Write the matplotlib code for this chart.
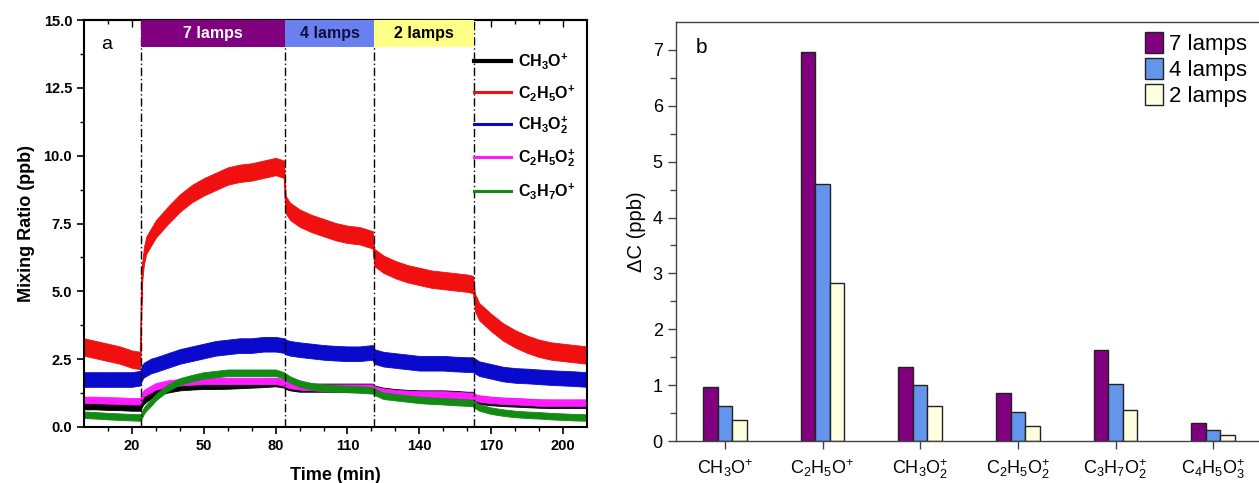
import matplotlib
matplotlib.use("Agg")
import matplotlib.pyplot as plt
from matplotlib.lines import Line2D
import numpy as np

plt.rcParams['font.family'] = ['Liberation Sans', 'DejaVu Sans']
plt.rcParams['mathtext.default'] = 'regular'

# ---------------- Panel a data ----------------
time_min = [0, 5, 10, 15, 20, 23.5, 24.2, 25, 26, 28, 30, 35, 40, 45, 50, 55, 60, 65, 70, 75,
            80, 83.5, 84.2, 86, 90, 95, 100, 105, 110, 115, 120.5, 121.2, 125, 130, 135, 140,
            145, 150, 155, 160, 162.5, 163.2, 165, 170, 175, 180, 185, 190, 195, 200, 205, 210]
ch3o = [0.8, 0.8, 0.78, 0.77, 0.75, 0.75, 0.9, 1.0, 1.08, 1.2, 1.3, 1.42, 1.5, 1.53, 1.55, 1.55,
        1.56, 1.58, 1.6, 1.62, 1.65, 1.6, 1.55, 1.5, 1.45, 1.45, 1.45, 1.45, 1.45, 1.45, 1.45,
        1.38, 1.3, 1.25, 1.22, 1.2, 1.2, 1.2, 1.18, 1.15, 1.15, 1.05, 1.0, 0.95, 0.92, 0.9, 0.88,
        0.86, 0.85, 0.85, 0.85, 0.85]
c2h5o = [2.95, 2.85, 2.75, 2.65, 2.5, 2.45, 5.6, 6.3, 6.7, 7.0, 7.3, 7.8, 8.25, 8.6, 8.85, 9.05,
         9.25, 9.35, 9.4, 9.5, 9.6, 9.5, 8.2, 7.95, 7.7, 7.5, 7.35, 7.2, 7.1, 7.05, 6.9, 6.25,
         6.0, 5.8, 5.65, 5.55, 5.45, 5.4, 5.35, 5.3, 5.25, 4.6, 4.25, 3.85, 3.5, 3.25, 3.05, 2.9,
         2.8, 2.75, 2.7, 2.65]
ch3o2 = [1.75, 1.75, 1.75, 1.75, 1.75, 1.8, 2.0, 2.1, 2.15, 2.25, 2.3, 2.45, 2.6, 2.7, 2.8, 2.9,
         2.95, 3.0, 3.0, 3.05, 3.05, 3.0, 2.95, 2.9, 2.85, 2.8, 2.75, 2.72, 2.7, 2.7, 2.75, 2.6,
         2.5, 2.45, 2.4, 2.35, 2.35, 2.35, 2.32, 2.3, 2.3, 2.25, 2.15, 2.05, 1.95, 1.9, 1.88,
         1.85, 1.82, 1.8, 1.78, 1.75]
c2h5o2 = [1.0, 1.0, 0.98, 0.97, 0.95, 0.95, 1.15, 1.25, 1.3, 1.4, 1.5, 1.6, 1.65, 1.68, 1.7, 1.7,
          1.7, 1.7, 1.7, 1.7, 1.7, 1.65, 1.6, 1.55, 1.5, 1.47, 1.45, 1.45, 1.45, 1.45, 1.45, 1.38,
          1.3, 1.25, 1.22, 1.2, 1.2, 1.2, 1.18, 1.15, 1.15, 1.1, 1.05, 1.0, 0.97, 0.95, 0.93,
          0.9, 0.9, 0.9, 0.9, 0.9]
c3h7o = [0.45, 0.43, 0.4, 0.38, 0.36, 0.35, 0.45, 0.6, 0.72, 0.9, 1.1, 1.45, 1.68, 1.8, 1.9, 1.95,
         2.0, 2.0, 2.0, 2.0, 2.0, 1.9, 1.85, 1.75, 1.6, 1.5, 1.45, 1.42, 1.4, 1.38, 1.35, 1.3,
         1.15, 1.1, 1.05, 1.0, 0.97, 0.95, 0.92, 0.9, 0.88, 0.82, 0.72, 0.6, 0.53, 0.48, 0.45,
         0.43, 0.4, 0.38, 0.36, 0.35]
# spread (half-width) of each noisy trace
noise_halfwidth = [0.15, 0.32, 0.27, 0.12, 0.12]
series_labels_a = [r'$CH_3O^{+}$', r'$C_2H_5O^{+}$', r'$CH_3O_2^{+}$', r'$C_2H_5O_2^{+}$',
                   r'$C_3H_7O^{+}$']
series_colors_a = ['#000000', '#F01010', '#0A0ACC', '#FF1AFF', '#138A13']

lamp_switch_times = [24, 84, 121, 163]
lamp_labels = ['7 lamps', '4 lamps', '2 lamps']
lamp_colors = ['#800080', '#6A80EE', '#FFFF88']
lamp_text_colors = ['white', '#101040', 'black']

# ---------------- Panel b data ----------------
ions_b = [r'$CH_3O^{+}$', r'$C_2H_5O^{+}$', r'$CH_3O_2^{+}$', r'$C_2H_5O_2^{+}$',
          r'$C_3H_7O_2^{+}$', r'$C_4H_5O_3^{+}$']
delta_7 = [0.96, 6.97, 1.32, 0.86, 1.63, 0.32]
delta_4 = [0.62, 4.60, 1.00, 0.52, 1.02, 0.20]
delta_2 = [0.38, 2.82, 0.62, 0.26, 0.55, 0.10]
bar_labels_b = ['7 lamps', '4 lamps', '2 lamps']
bar_colors_b = ['#800080', '#6495ED', '#FFFFE0']

W, H = 1259, 483
fig = plt.figure(figsize=(W / 100, H / 100), dpi=100)

# ================= Panel a =================
axa = fig.add_axes([84 / W, 1 - 427 / H, (587 - 84) / W, (427 - 20) / H])
t = np.array(time_min)
all_series = [ch3o, c2h5o, ch3o2, c2h5o2, c3h7o]
handles = []
for s, hw, c, lab in zip(all_series, noise_halfwidth, series_colors_a, series_labels_a):
    y = np.array(s)
    axa.fill_between(t, y - hw, y + hw, color=c, lw=0.6, edgecolor=c, zorder=2)
    axa.plot(t, y, color=c, lw=1.0, zorder=2)
    handles.append(Line2D([0], [0], color=c, lw=3.0 if c == '#000000' else 2.2, label=lab))

for x in lamp_switch_times:
    axa.axvline(x, color='black', lw=1.0, ls=(0, (6, 2, 1, 2)), zorder=3)

for i in range(3):
    x0, x1 = lamp_switch_times[i], lamp_switch_times[i + 1]
    axa.fill_between([x0, x1], 14.0, 15.0, color=lamp_colors[i], zorder=4, lw=0)
    axa.text((x0 + x1) / 2, 14.5, lamp_labels[i], ha='center', va='center', fontsize=11.5,
             fontweight='bold', color=lamp_text_colors[i], zorder=5)

axa.text(7, 14.1, 'a', fontsize=14, ha='left', va='center', zorder=5)

axa.set_xlim(0, 210)
axa.set_ylim(0, 15)
axa.set_xticks([20, 50, 80, 110, 140, 170, 200])
axa.set_xticks(np.arange(10, 210, 10), minor=True)
axa.set_yticks(np.arange(0, 15.1, 2.5))
axa.set_yticks(np.arange(0, 15.1, 1.25), minor=True)
axa.set_yticklabels([f'{v:.1f}' for v in np.arange(0, 15.1, 2.5)])
axa.tick_params(axis='both', which='major', direction='out', length=5, width=1.2, labelsize=10.5)
axa.tick_params(axis='both', which='minor', direction='out', length=3, width=1.0)
for lbl in axa.get_xticklabels() + axa.get_yticklabels():
    lbl.set_fontweight('bold')
sec = axa.secondary_xaxis('top')
sec.set_xticks([20, 50, 80, 110, 140, 170, 200])
sec.set_xticks(np.arange(10, 210, 10), minor=True)
sec.tick_params(which='both', direction='in', labeltop=False, length=5, width=1.0)
sec.tick_params(which='minor', length=3)
for sp in axa.spines.values():
    sp.set_linewidth(1.5)
sec.spines['top'].set_linewidth(1.5)

axa.set_ylabel('Mixing Ratio (ppb)', fontsize=13, fontweight='bold', labelpad=6)
axa.set_xlabel('Time (min)', fontsize=13, fontweight='bold', labelpad=10)

leg = axa.legend(handles=handles, loc='upper left', bbox_to_anchor=(163, 13.85),
                 bbox_transform=axa.transData, frameon=False, fontsize=11.5,
                 handlelength=2.3, handletextpad=0.4, labelspacing=0.72, borderpad=0,
                 borderaxespad=0)
for txt in leg.get_texts():
    txt.set_fontweight('bold')

# ================= Panel b =================
axb = fig.add_axes([676 / W, 1 - 441 / H, (1262 - 676) / W, (441 - 22) / H])
xb = np.arange(len(ions_b))
bw = 0.15
for k, (vals, c, lab) in enumerate(zip([delta_7, delta_4, delta_2], bar_colors_b, bar_labels_b)):
    axb.bar(xb + (k - 1) * bw, vals, bw, color=c, edgecolor='#222222', lw=1.0, label=lab)

axb.set_xlim(-0.5, 5.5)
axb.set_ylim(0, 7.5)
axb.set_xticks(xb)
axb.set_xticklabels(ions_b)
axb.set_yticks(range(0, 8))
axb.set_yticks(np.arange(0.5, 7.5, 1.0), minor=True)
for sp in axb.spines.values():
    sp.set_color('#444444')
    sp.set_linewidth(1.0)
axb.tick_params(axis='both', which='major', direction='out', length=6, width=1.0,
                color='#444444', labelsize=13)
axb.tick_params(axis='y', which='minor', direction='out', length=4, width=1.0, color='#444444')
axb.tick_params(axis='x', pad=6)
axb.set_ylabel('ΔC (ppb)', fontsize=14.5, labelpad=5)
axb.text(-0.3, 7.05, 'b', fontsize=15, ha='left', va='center')
legb = axb.legend(loc='upper left', bbox_to_anchor=(0.80, 0.975), frameon=False,
                  fontsize=16, handlelength=0.8, handleheight=1.05, handletextpad=0.3,
                  labelspacing=0.14, borderpad=0, borderaxespad=0)

fig.savefig('out.png', dpi=100)
